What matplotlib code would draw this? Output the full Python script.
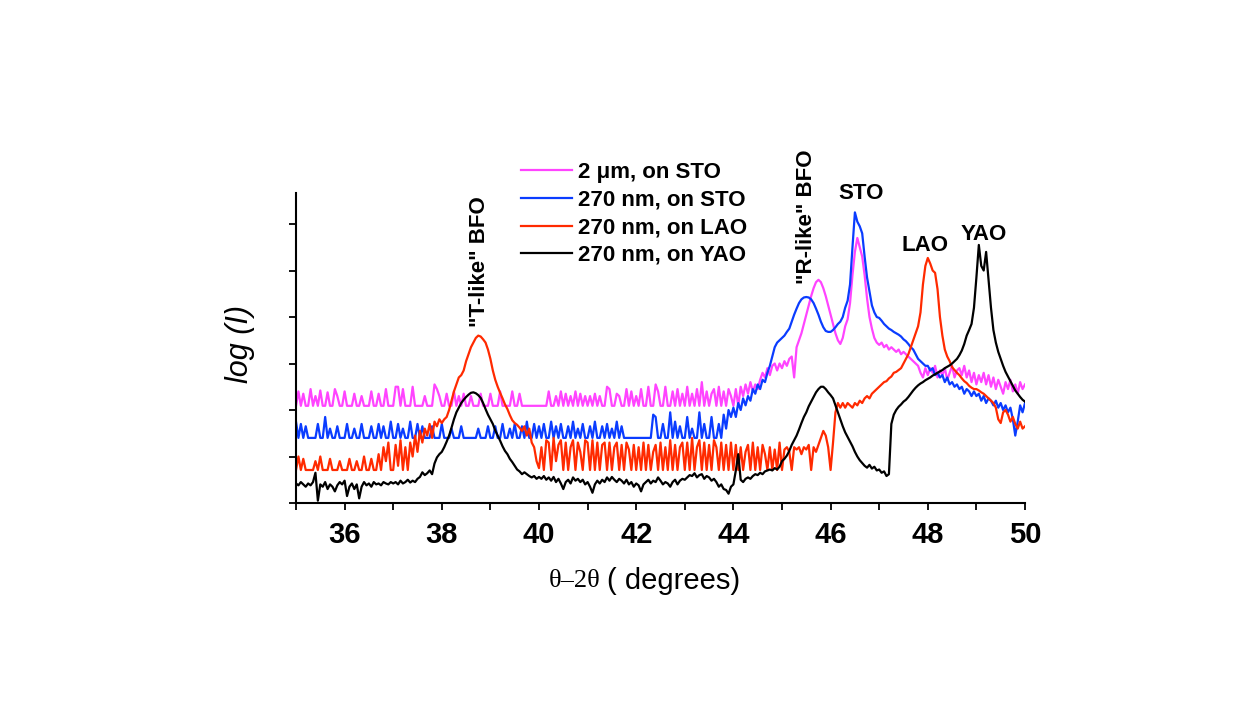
import numpy as np
import matplotlib
matplotlib.use("Agg")
import matplotlib.pyplot as plt
from matplotlib.ticker import MultipleLocator

plt.rcParams["font.family"] = ["Liberation Sans", "DejaVu Sans"]

# 2theta grid, 0.05 deg steps from 35 to 50
two_theta = np.linspace(35, 50, 301)

# log(I), one row per degree (35.00 ... 35.95, etc.)
pink_2um_sto = [
    2.09, 2.40, 2.09, 2.35, 2.09, 2.09, 2.45, 2.09, 2.30, 2.09, 2.42, 2.09, 2.09, 2.38, 2.09, 2.09, 2.45, 2.30, 2.09, 2.09,
    2.40, 2.09, 2.09, 2.09, 2.35, 2.09, 2.09, 2.30, 2.09, 2.09, 2.09, 2.40, 2.09, 2.09, 2.35, 2.09, 2.09, 2.45, 2.09, 2.09,
    2.09, 2.50, 2.50, 2.09, 2.45, 2.09, 2.09, 2.09, 2.50, 2.09, 2.09, 2.09, 2.09, 2.30, 2.09, 2.09, 2.09, 2.55, 2.45, 2.30,
    2.09, 2.09, 2.35, 2.09, 2.09, 2.40, 2.09, 2.30, 2.09, 2.35, 2.09, 2.09, 2.30, 2.09, 2.09, 2.09, 2.35, 2.09, 2.09, 2.09,
    2.35, 2.09, 2.09, 2.09, 2.40, 2.09, 2.09, 2.09, 2.09, 2.40, 2.09, 2.09, 2.35, 2.09, 2.09, 2.09, 2.09, 2.09, 2.09, 2.09,
    2.09, 2.09, 2.09, 2.09, 2.40, 2.09, 2.09, 2.30, 2.09, 2.40, 2.09, 2.35, 2.09, 2.30, 2.09, 2.40, 2.09, 2.35, 2.09, 2.30,
    2.09, 2.30, 2.09, 2.35, 2.09, 2.30, 2.09, 2.09, 2.50, 2.45, 2.09, 2.09, 2.35, 2.30, 2.09, 2.09, 2.45, 2.09, 2.40, 2.09,
    2.30, 2.09, 2.45, 2.09, 2.09, 2.50, 2.09, 2.09, 2.55, 2.40, 2.09, 2.09, 2.50, 2.09, 2.09, 2.40, 2.09, 2.45, 2.09, 2.35,
    2.09, 2.50, 2.09, 2.35, 2.09, 2.45, 2.09, 2.60, 2.09, 2.40, 2.09, 2.35, 2.45, 2.09, 2.50, 2.09, 2.40, 2.09, 2.45, 2.30,
    2.09, 2.45, 2.09, 2.50, 2.30, 2.55, 2.35, 2.60, 2.40, 2.55, 2.45, 2.65, 2.80, 2.70, 2.90, 2.75, 2.95, 3.00, 2.85, 3.00,
    2.90, 3.05, 2.95, 3.10, 3.15, 2.70, 3.35, 3.50, 3.65, 3.85, 4.05, 4.25, 4.45, 4.62, 4.75, 4.80, 4.75, 4.62, 4.45, 4.25,
    4.05, 3.85, 3.65, 3.50, 3.42, 3.55, 3.80, 3.95, 4.30, 4.90, 5.40, 5.70, 5.50, 5.30, 4.90, 4.40, 4.00, 3.75, 3.55, 3.45,
    3.40, 3.45, 3.35, 3.40, 3.30, 3.35, 3.30, 3.25, 3.30, 3.20, 3.25, 3.20, 3.15, 3.10, 3.05, 3.00, 2.95, 2.80, 2.70, 2.90,
    2.75, 2.90, 2.80, 2.95, 2.70, 2.85, 2.75, 2.90, 2.65, 2.80, 2.95, 2.70, 2.85, 2.90, 2.75, 2.95, 2.70, 2.85, 2.60, 2.80,
    2.55, 2.75, 2.60, 2.80, 2.55, 2.75, 2.50, 2.70, 2.45, 2.65, 2.50, 2.35, 2.60, 2.45, 2.65, 2.40, 2.55, 2.35, 2.60, 2.45,
    2.55,
]

blue_270nm_sto = [
    1.75, 1.40, 1.70, 1.40, 1.65, 1.40, 1.40, 1.40, 1.40, 1.70, 1.40, 1.40, 1.85, 1.40, 1.60, 1.40, 1.40, 1.65, 1.40, 1.40,
    1.40, 1.70, 1.40, 1.40, 1.60, 1.40, 1.40, 1.70, 1.40, 1.40, 1.40, 1.65, 1.40, 1.40, 1.70, 1.40, 1.65, 1.40, 1.40, 1.75,
    1.40, 1.40, 1.70, 1.40, 1.60, 1.40, 1.40, 1.75, 1.40, 1.40, 1.70, 1.40, 1.65, 1.40, 1.40, 1.40, 1.65, 1.40, 1.40, 1.40,
    1.70, 1.40, 1.40, 1.40, 1.60, 1.40, 1.40, 1.40, 1.65, 1.40, 1.40, 1.40, 1.40, 1.40, 1.40, 1.60, 1.40, 1.40, 1.40, 1.65,
    1.40, 1.40, 1.65, 1.40, 1.40, 1.70, 1.40, 1.40, 1.60, 1.40, 1.70, 1.40, 1.40, 1.65, 1.40, 1.75, 1.40, 1.40, 1.70, 1.40,
    1.65, 1.40, 1.70, 1.40, 1.40, 1.75, 1.40, 1.65, 1.40, 1.70, 1.40, 1.40, 1.65, 1.40, 1.75, 1.40, 1.60, 1.40, 1.70, 1.40,
    1.40, 1.65, 1.40, 1.75, 1.40, 1.40, 1.65, 1.40, 1.70, 1.40, 1.60, 1.40, 1.75, 1.40, 1.65, 1.40, 1.40, 1.40, 1.40, 1.40,
    1.40, 1.40, 1.40, 1.40, 1.40, 1.40, 1.40, 1.90, 1.85, 1.40, 1.40, 1.70, 1.40, 1.40, 1.95, 1.40, 1.75, 1.40, 1.65, 1.40,
    1.40, 1.85, 1.40, 1.60, 1.40, 1.40, 1.95, 1.40, 1.70, 1.40, 1.40, 1.85, 1.40, 1.40, 1.70, 1.40, 1.90, 1.60, 2.00, 1.85,
    2.05, 1.85, 2.15, 2.00, 2.25, 2.10, 2.30, 2.20, 2.45, 2.35, 2.55, 2.45, 2.65, 2.60, 2.80, 2.95, 3.15, 3.35, 3.45, 3.50,
    3.55, 3.60, 3.68, 3.75, 3.90, 4.05, 4.18, 4.30, 4.38, 4.42, 4.43, 4.42, 4.38, 4.30, 4.18, 4.05, 3.90, 3.78, 3.70, 3.68,
    3.68, 3.72, 3.78, 3.85, 3.90, 4.00, 4.20, 4.35, 4.70, 5.50, 6.25, 6.05, 5.95, 5.80, 5.30, 4.85, 4.55, 4.25, 4.10, 4.00,
    3.98, 3.92, 3.85, 3.80, 3.75, 3.72, 3.68, 3.65, 3.62, 3.58, 3.52, 3.48, 3.42, 3.35, 3.30, 3.20, 3.10, 3.05, 3.00, 2.95,
    2.95, 2.85, 2.90, 2.75, 2.80, 2.70, 2.75, 2.60, 2.70, 2.55, 2.60, 2.50, 2.55, 2.45, 2.50, 2.35, 2.45, 2.40, 2.30, 2.40,
    2.30, 2.35, 2.20, 2.30, 2.15, 2.25, 2.20, 2.10, 2.20, 2.05, 2.15, 2.00, 2.10, 1.95, 2.05, 1.80, 1.45, 1.75, 2.10, 1.95,
    2.15,
]

red_270nm_lao = [
    0.71, 1.00, 0.71, 0.95, 0.71, 0.71, 0.71, 0.71, 0.90, 0.71, 1.00, 0.71, 0.71, 0.71, 0.95, 0.71, 0.71, 0.71, 0.90, 0.71,
    0.71, 0.71, 0.95, 0.71, 0.71, 0.90, 0.71, 0.71, 1.00, 0.71, 0.71, 0.95, 0.71, 0.71, 1.05, 0.71, 1.20, 0.90, 1.30, 0.71,
    0.71, 1.25, 0.80, 1.35, 0.71, 1.20, 0.71, 1.30, 1.00, 1.45, 1.10, 1.55, 1.30, 1.60, 1.45, 1.70, 1.40, 1.75, 1.65, 1.80,
    1.72, 1.80, 1.85, 2.00, 2.20, 2.40, 2.55, 2.70, 2.75, 2.85, 3.05, 3.20, 3.35, 3.45, 3.55, 3.60, 3.58, 3.52, 3.45, 3.30,
    3.10, 2.85, 2.65, 2.50, 2.37, 2.25, 2.12, 2.02, 1.89, 1.78, 1.72, 1.68, 1.62, 1.55, 1.65, 1.45, 1.60, 1.30, 1.20, 0.90,
    0.75, 1.20, 0.71, 1.35, 1.30, 0.71, 1.40, 0.90, 1.25, 1.35, 0.71, 1.30, 0.71, 1.20, 1.35, 0.71, 1.30, 1.10, 0.71, 1.35,
    1.30, 0.71, 1.35, 0.71, 1.30, 0.71, 1.25, 1.30, 0.71, 1.30, 0.71, 1.20, 1.30, 0.71, 1.25, 0.71, 1.30, 1.15, 0.71, 1.25,
    0.71, 1.20, 0.71, 1.30, 0.71, 1.25, 0.71, 1.10, 1.25, 0.71, 1.30, 0.71, 1.20, 0.71, 1.35, 0.71, 1.25, 0.71, 1.20, 1.30,
    0.71, 1.30, 0.71, 1.40, 0.71, 1.20, 1.35, 0.71, 1.30, 0.71, 1.25, 0.71, 1.35, 1.20, 0.71, 1.30, 0.71, 1.25, 0.71, 1.30,
    0.71, 1.25, 0.71, 1.20, 0.71, 1.10, 1.25, 0.71, 1.30, 0.71, 1.20, 0.71, 1.25, 1.05, 0.71, 1.20, 0.71, 1.15, 0.71, 1.30,
    0.71, 1.15, 1.20, 1.10, 0.71, 1.20, 1.15, 1.20, 1.05, 1.20, 1.15, 1.25, 0.71, 1.20, 1.10, 1.25, 1.40, 1.55, 1.45, 1.20,
    0.71, 1.30, 1.95, 2.15, 2.05, 2.15, 2.05, 2.15, 2.10, 2.05, 2.15, 2.10, 2.20, 2.15, 2.25, 2.30, 2.25, 2.35, 2.40, 2.45,
    2.50, 2.55, 2.60, 2.62, 2.68, 2.72, 2.80, 2.82, 2.86, 2.90, 3.00, 3.10, 3.20, 3.35, 3.50, 3.65, 3.80, 4.10, 4.70, 5.10,
    5.27, 5.15, 5.00, 4.95, 4.60, 4.00, 3.60, 3.30, 3.15, 3.05, 2.92, 2.86, 2.80, 2.75, 2.68, 2.62, 2.58, 2.52, 2.48, 2.45,
    2.45, 2.42, 2.38, 2.35, 2.30, 2.25, 2.20, 2.15, 2.05, 1.80, 1.72, 1.95, 2.00, 1.90, 1.75, 1.85, 1.70, 1.60, 1.75, 1.60,
    1.65,
]

black_270nm_yao = [
    0.42, 0.38, 0.45, 0.40, 0.35, 0.42, 0.38, 0.45, 0.65, 0.05, 0.40, 0.35, 0.45, 0.30, 0.40, 0.35, 0.25, 0.38, 0.45, 0.40,
    0.48, 0.15, 0.35, 0.42, 0.30, 0.40, 0.10, 0.35, 0.45, 0.38, 0.42, 0.35, 0.45, 0.40, 0.42, 0.38, 0.45, 0.42, 0.40, 0.45,
    0.42, 0.45, 0.40, 0.48, 0.42, 0.45, 0.50, 0.44, 0.48, 0.45, 0.52, 0.56, 0.66, 0.60, 0.64, 0.70, 0.62, 0.85, 0.98, 1.05,
    1.10, 1.20, 1.32, 1.45, 1.62, 1.80, 1.95, 2.05, 2.15, 2.22, 2.28, 2.33, 2.37, 2.38, 2.36, 2.32, 2.26, 2.15, 2.02, 1.90,
    1.80, 1.70, 1.56, 1.45, 1.34, 1.22, 1.12, 1.05, 0.95, 0.88, 0.80, 0.72, 0.68, 0.62, 0.66, 0.62, 0.58, 0.55, 0.58, 0.52,
    0.56, 0.52, 0.58, 0.50, 0.55, 0.48, 0.56, 0.45, 0.52, 0.42, 0.30, 0.45, 0.50, 0.42, 0.55, 0.48, 0.52, 0.45, 0.50, 0.40,
    0.45, 0.35, 0.22, 0.40, 0.48, 0.42, 0.50, 0.45, 0.55, 0.48, 0.56, 0.50, 0.45, 0.52, 0.48, 0.42, 0.50, 0.40, 0.45, 0.35,
    0.42, 0.38, 0.25, 0.40, 0.45, 0.50, 0.42, 0.48, 0.45, 0.55, 0.48, 0.40, 0.45, 0.42, 0.35, 0.45, 0.50, 0.40, 0.48, 0.52,
    0.50, 0.55, 0.60, 0.58, 0.64, 0.55, 0.60, 0.62, 0.52, 0.58, 0.55, 0.48, 0.52, 0.45, 0.35, 0.40, 0.30, 0.28, 0.20, 0.35,
    0.40, 0.70, 1.05, 0.50, 0.45, 0.52, 0.55, 0.52, 0.58, 0.62, 0.60, 0.65, 0.62, 0.68, 0.70, 0.72, 0.70, 0.75, 0.72, 0.78,
    0.90, 0.95, 1.02, 1.12, 1.25, 1.35, 1.45, 1.58, 1.72, 1.85, 1.95, 2.08, 2.18, 2.28, 2.38, 2.45, 2.50, 2.50, 2.45, 2.38,
    2.32, 2.25, 2.10, 1.95, 1.80, 1.65, 1.52, 1.42, 1.32, 1.22, 1.10, 1.00, 0.92, 0.86, 0.80, 0.76, 0.82, 0.74, 0.78, 0.70,
    0.72, 0.65, 0.68, 0.58, 0.62, 1.70, 1.90, 2.00, 2.07, 2.12, 2.18, 2.22, 2.28, 2.35, 2.42, 2.48, 2.53, 2.57, 2.60, 2.64,
    2.67, 2.70, 2.74, 2.77, 2.80, 2.83, 2.86, 2.90, 2.93, 2.96, 3.00, 3.05, 3.10, 3.18, 3.28, 3.42, 3.60, 3.72, 3.85, 4.20,
    4.85, 5.55, 5.10, 5.00, 5.40, 4.80, 4.20, 3.72, 3.45, 3.25, 3.10, 2.95, 2.82, 2.72, 2.62, 2.52, 2.42, 2.35, 2.28, 2.22,
    2.18,
]

series_labels = ["2 \u03bcm, on STO", "270 nm, on STO", "270 nm, on LAO", "270 nm, on YAO"]
series_colors = ["#ff44ff", "#0a3cff", "#ff2a00", "#000000"]
series_values = [pink_2um_sto, blue_270nm_sto, red_270nm_lao, black_270nm_yao]

fig = plt.figure(figsize=(12.5, 7.26), dpi=100)
W, H = 1250, 726
ax = fig.add_axes([296 / W, 1 - 503 / H, (1025 - 296) / W, (503 - 193) / H])

for vals, col, lab in zip(series_values, series_colors, series_labels):
    ax.plot(two_theta, vals, color=col, lw=1.6, label=lab)

ax.set_xlim(35, 50)
ax.set_ylim(0, 6.667)
ax.xaxis.set_major_locator(MultipleLocator(2))
ax.xaxis.set_minor_locator(MultipleLocator(1))
ax.set_yticks(range(0, 7))
ax.set_yticklabels([])
ax.tick_params(axis="both", which="both", direction="out", length=5, width=1.3)
ax.tick_params(axis="x", which="major", labelsize=21, pad=8)
for lbl in ax.get_xticklabels():
    lbl.set_fontweight("bold")
for side in ["top", "right"]:
    ax.spines[side].set_visible(False)
for side in ["left", "bottom"]:
    ax.spines[side].set_linewidth(1.5)

# peak annotations
ax.text(38.77, 3.78, "\"T-like\" BFO", rotation=90, ha="center", va="bottom",
        fontsize=16, fontweight="bold")
ax.text(45.51, 4.72, "\"R-like\" BFO", rotation=90, ha="center", va="bottom",
        fontsize=16, fontweight="bold", clip_on=False)
ax.text(46.63, 6.66, "STO", ha="center", va="center", fontsize=16, fontweight="bold")
ax.text(47.94, 5.54, "LAO", ha="center", va="center", fontsize=16, fontweight="bold")
ax.text(49.16, 5.77, "YAO", ha="center", va="center", fontsize=16, fontweight="bold")

ax.legend(loc="upper left", bbox_to_anchor=(521 / W, 1 - 162 / H), bbox_transform=fig.transFigure,
          frameon=False, handlelength=2.3, handletextpad=0.25, labelspacing=0.30,
          borderpad=0, borderaxespad=0, prop=dict(size=16, weight="bold"))

# axis titles
fig.text(600 / W, 1 - 581 / H, "\u03b8\u20132\u03b8", ha="right", va="center",
         fontsize=19, family=["Liberation Serif", "DejaVu Serif"])
fig.text(607 / W, 1 - 581 / H, "( degrees)", ha="left", va="center", fontsize=21)
fig.text(240 / W, 1 - 344 / H, "log (I)", rotation=90, ha="center", va="center",
         fontsize=22, style="italic")

fig.savefig("out.png", dpi=100)
